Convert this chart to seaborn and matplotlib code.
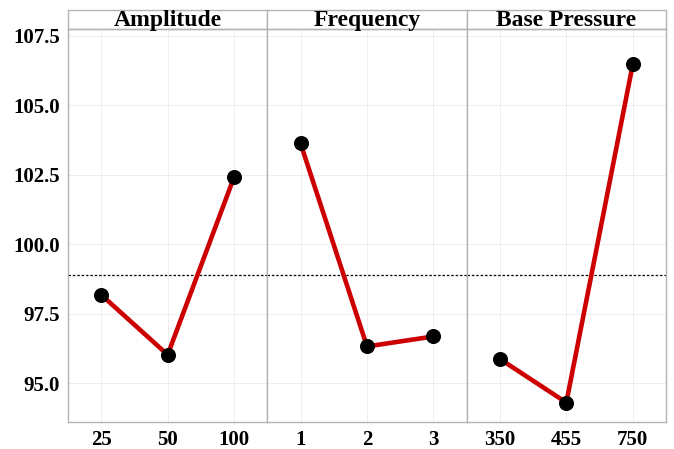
import matplotlib
matplotlib.use("Agg")
import matplotlib.pyplot as plt
import seaborn as sns
import pandas as pd
from matplotlib.patches import Rectangle

factors = ["Amplitude", "Frequency", "Base Pressure"]
amp_levels = ["25", "50", "100"]
amp_values = [98.18, 96.02, 102.42]
freq_levels = ["1", "2", "3"]
freq_values = [103.63, 96.32, 96.68]
bp_levels = ["350", "455", "750"]
bp_values = [95.87, 94.30, 106.48]
grand_mean = 98.88
y_ticks = [95.0, 97.5, 100.0, 102.5, 105.0, 107.5]

sns.set_theme(style="white")
plt.rcParams['font.family'] = ['Liberation Serif', 'DejaVu Serif']
plt.rcParams['font.weight'] = 'bold'

fig = plt.figure(figsize=(6.74, 4.49), dpi=100)
W, H = 674, 449
left, right, top, bottom = 68, 666, 29, 422
pw = (right - left) / 3
strip_h = 19

levels = [amp_levels, freq_levels, bp_levels]
values = [amp_values, freq_values, bp_values]

for i in range(3):
    ax = fig.add_axes([(left + i * pw) / W, (H - bottom) / H, pw / W, (bottom - top) / H])
    df = pd.DataFrame({"level": levels[i], "value": values[i], "pos": [0, 1, 2]})
    ax.axhline(grand_mean, color="black", lw=0.9, ls=(0, (2, 1.5)), zorder=2)
    sns.lineplot(data=df, x="pos", y="value", color="#CC0000", lw=3.3, sort=False, ax=ax, zorder=3)
    sns.scatterplot(data=df, x="pos", y="value", color="black", s=100, edgecolor="black", ax=ax, zorder=4)
    ax.set_xlim(-0.5, 2.5)
    ax.set_ylim(93.6, 107.75)
    ax.set_xticks([0, 1, 2])
    ax.set_xticklabels(levels[i], fontsize=15, fontweight="bold", color="black")
    ax.set_yticks(y_ticks)
    if i == 0:
        ax.set_yticklabels([f"{t:.1f}" for t in y_ticks], fontsize=15, fontweight="bold", color="black")
        ax.tick_params(axis="y", length=3, color="#b3b3b3", width=0.8, pad=3)
    else:
        ax.set_yticklabels([])
        ax.tick_params(axis="y", length=0)
    ax.tick_params(axis="x", length=3, color="#b3b3b3", width=0.8, pad=3)
    ax.set_xlabel("")
    ax.set_ylabel("")
    ax.grid(True, color="#ebebeb", lw=0.6)
    ax.set_axisbelow(True)
    for s in ax.spines.values():
        s.set_color("#b3b3b3")
        s.set_linewidth(1.0)
    sh = strip_h / (bottom - top)
    rect = Rectangle((0, 1), 1, sh, transform=ax.transAxes, facecolor="white",
                     edgecolor="#b3b3b3", lw=1.0, clip_on=False)
    ax.add_patch(rect)
    ax.text(0.5, 1 + sh * 0.45, factors[i], transform=ax.transAxes, ha="center", va="center",
            fontsize=17, fontweight="bold", color="black")

fig.savefig("out.png", dpi=100, facecolor="white")
